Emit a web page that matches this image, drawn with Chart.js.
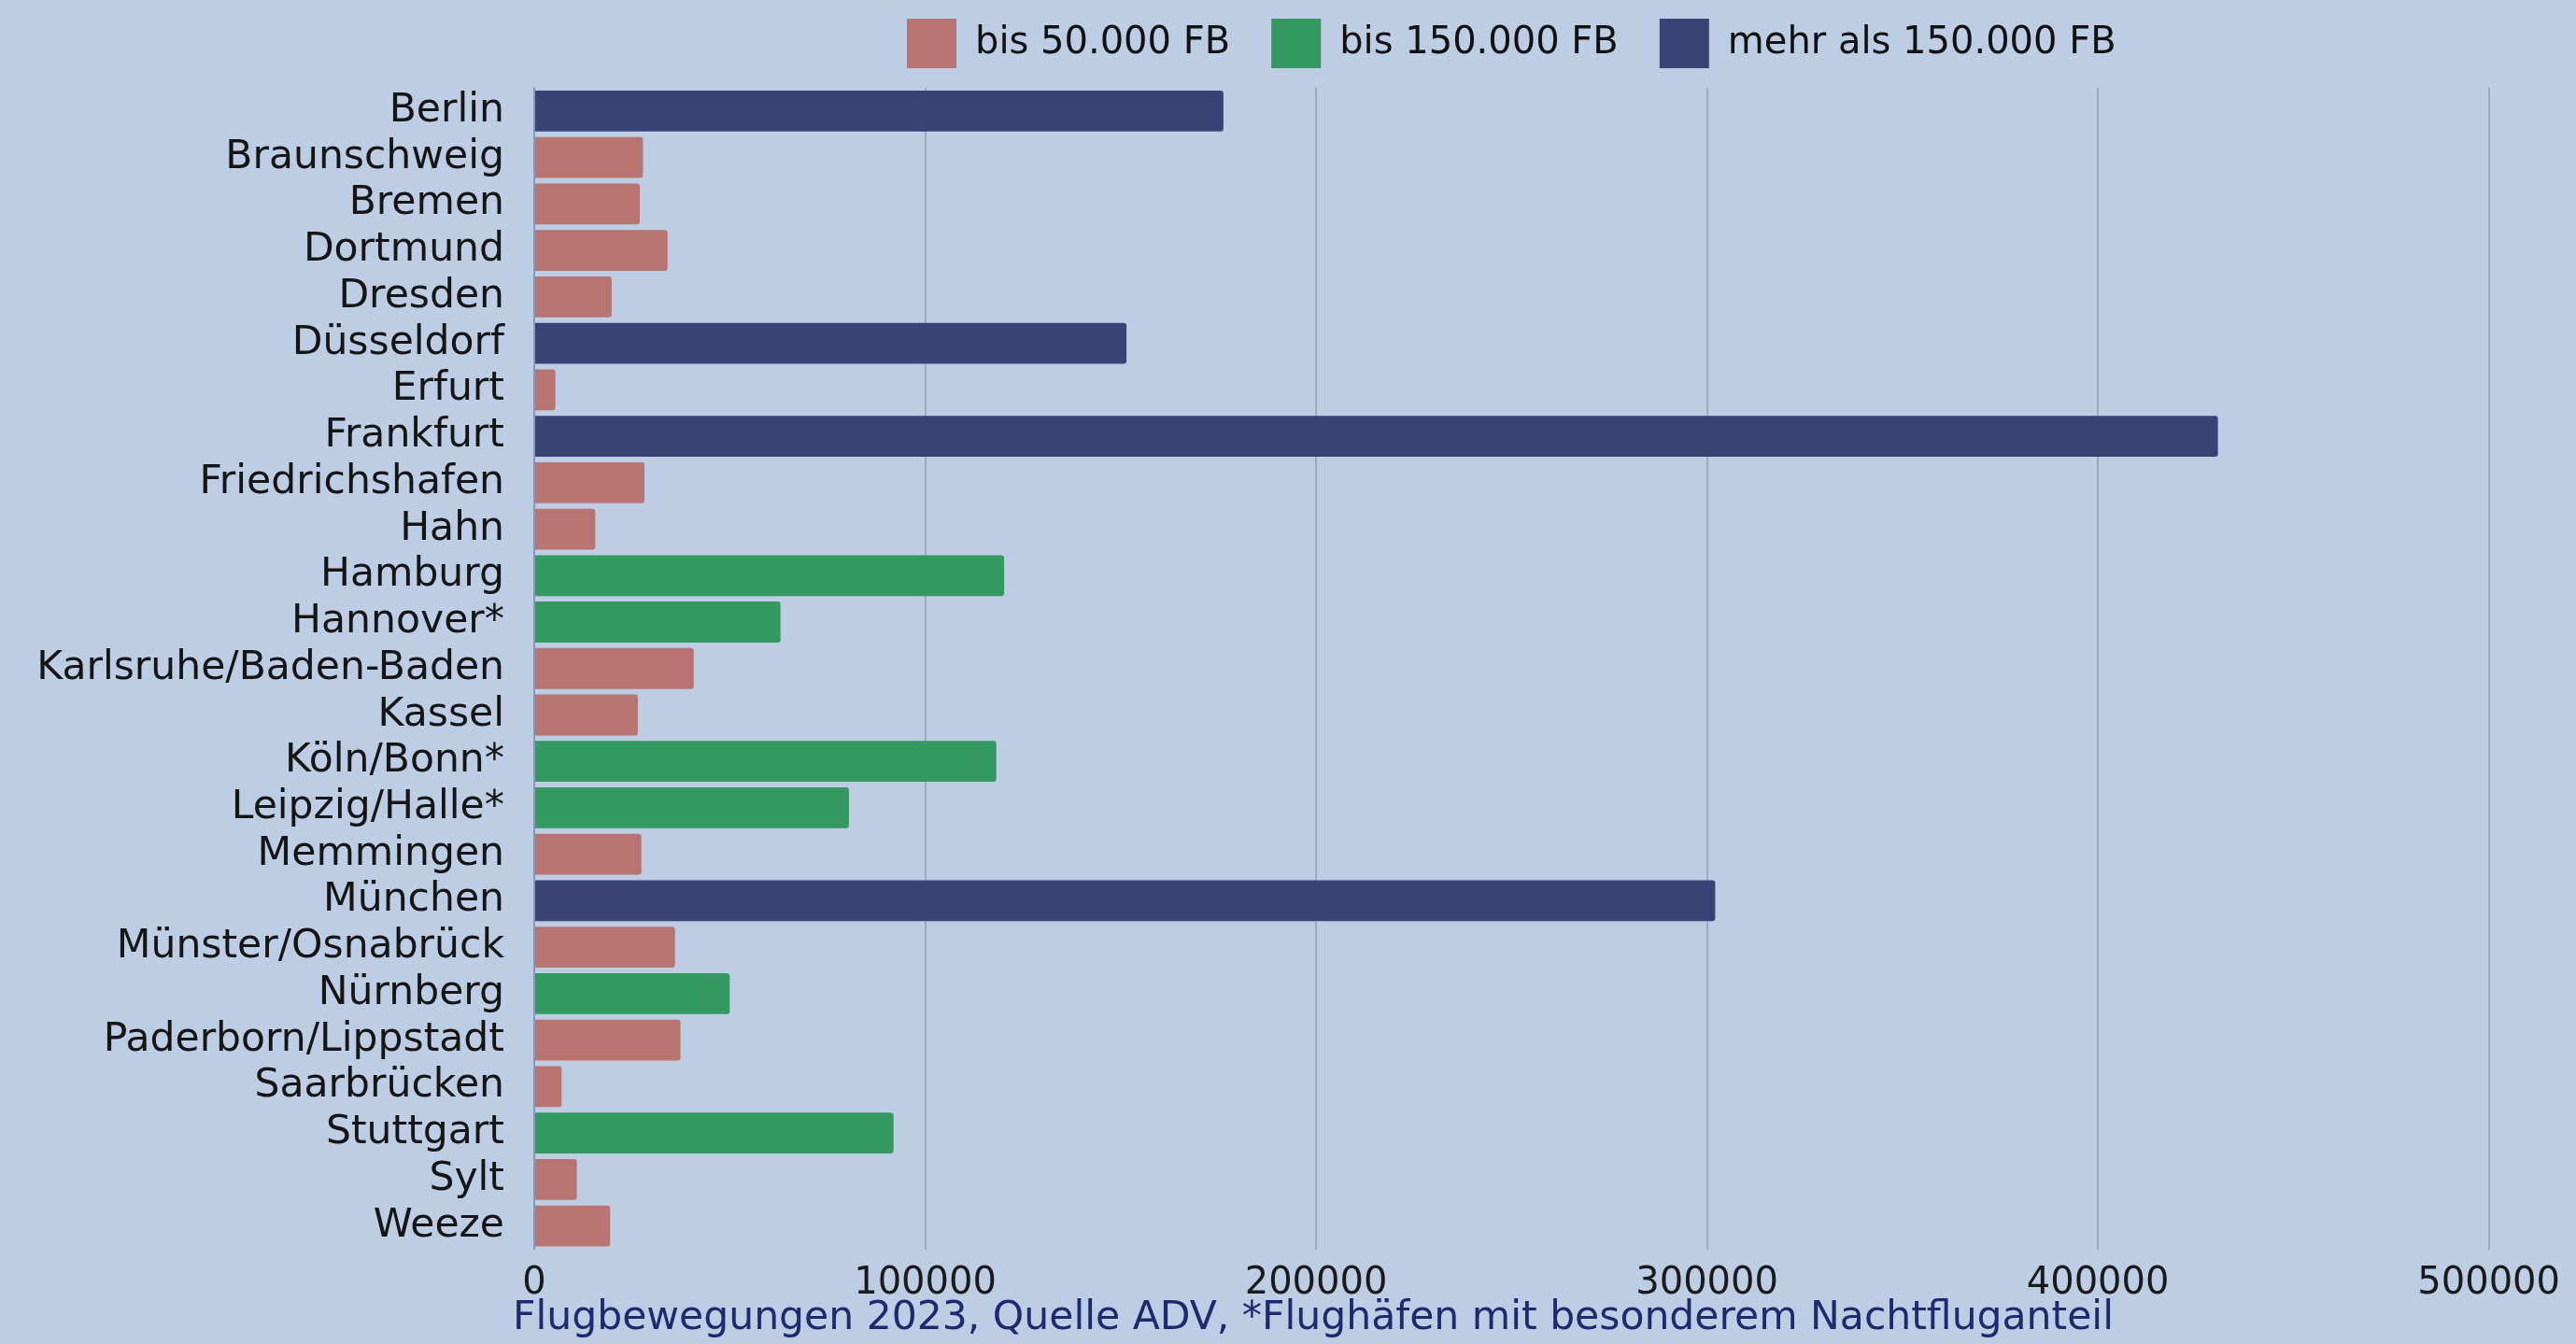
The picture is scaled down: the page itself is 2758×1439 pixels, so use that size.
<!DOCTYPE html>
<html>
<head>
<meta charset="utf-8">
<script src="https://cdn.jsdelivr.net/npm/chart.js@4.4.1/dist/chart.umd.min.js"></script>
<style>
  html, body { margin: 0; padding: 0; background: #bccde4; }
  #wrap { width: 2758px; height: 1439px; }
</style>
</head>
<body>
<div id="wrap"><canvas id="flugChart"></canvas></div>
<script>
// Flugbewegungen 2023 je Flughafen
const airports = [
  "Berlin", "Braunschweig", "Bremen", "Dortmund", "Dresden", "Düsseldorf",
  "Erfurt", "Frankfurt", "Friedrichshafen", "Hahn", "Hamburg", "Hannover*",
  "Karlsruhe/Baden-Baden", "Kassel", "Köln/Bonn*", "Leipzig/Halle*", "Memmingen",
  "München", "Münster/Osnabrück", "Nürnberg", "Paderborn/Lippstadt",
  "Saarbrücken", "Stuttgart", "Sylt", "Weeze"
];
const movements = [
  176300, 27800, 27000, 34100, 19800, 151500,
  5400, 430700, 28200, 15600, 120200, 63000,
  40800, 26500, 118200, 80500, 27400,
  302100, 36000, 50000, 37400,
  7000, 91900, 10900, 19400
];
// 0 = bis 50.000, 1 = bis 150.000, 2 = mehr als 150.000
const sizeClass = [
  2, 0, 0, 0, 0, 2,
  0, 2, 0, 0, 1, 1,
  0, 0, 1, 1, 0,
  2, 0, 1, 0,
  0, 1, 0, 0
];
const classLabels = ["bis 50.000 FB", "bis 150.000 FB", "mehr als 150.000 FB"];
const classColors = ["#b87471", "#339960", "#374475"];
const xTicks = [0, 100000, 200000, 300000, 400000, 500000];
const caption = "Flugbewegungen 2023, Quelle ADV, *Flughäfen mit besonderem Nachtfluganteil";

const gridColor = "rgba(110, 130, 160, 0.45)";

// one dataset per class, other airports left empty
const datasets = classLabels.map((label, c) => ({
  label: label,
  data: movements.map((v, i) => (sizeClass[i] === c ? v : null)),
  backgroundColor: classColors[c],
  borderWidth: 0,
  borderRadius: 3,
  borderSkipped: "start",
  grouped: false,
  categoryPercentage: 1,
  barPercentage: 0.88,
}));

// extra room between legend and plot
const legendGap = {
  id: "legendGap",
  beforeInit(chart) {
    const fit = chart.legend.fit;
    chart.legend.fit = function () {
      fit.call(this);
      this.height += 11;
    };
  },
};

// caption sits a bit right of the canvas centre
const captionShift = {
  id: "captionShift",
  afterLayout(chart) {
    chart.titleBlock.left = 144;
  },
};

const ctx = document.getElementById("flugChart").getContext("2d");

const flugChart = new Chart(ctx, {
  type: "bar",
  data: {
    labels: airports,
    datasets: datasets,
  },
  plugins: [legendGap, captionShift],
  options: {
    indexAxis: "y",
    responsive: true,
    maintainAspectRatio: false,
    animation: false,
    layout: {
      padding: { left: 0, right: 90, top: -24, bottom: 0 },
    },
    scales: {
      x: {
        min: 0,
        max: 500000,
        afterBuildTicks: (scale) => {
          scale.ticks = xTicks.map((v) => ({ value: v }));
        },
        afterFit: (scale) => {
          scale.height = 53;
        },
        grid: {
          color: gridColor,
          lineWidth: 2,
          drawTicks: false,
        },
        border: { display: false },
        ticks: {
          color: "#1a1a1a",
          padding: 17,
          font: { family: "DejaVu Sans", size: 40, lineHeight: 1 },
          callback: (v) => String(v),
          maxRotation: 0,
        },
      },
      y: {
        afterFit: (scale) => {
          scale.width = 572;
        },
        grid: { display: false, drawTicks: false },
        border: { display: true, color: gridColor, width: 2 },
        ticks: {
          color: "#151515",
          padding: 32,
          autoSkip: false,
          font: { family: "DejaVu Sans", size: 42.5, lineHeight: 1 },
        },
      },
    },
    plugins: {
      legend: {
        position: "top",
        fullSize: false,
        labels: {
          boxWidth: 53,
          boxHeight: 53,
          padding: 44,
          color: "#111111",
          font: { family: "DejaVu Sans", size: 40 },
        },
      },
      title: {
        display: true,
        position: "bottom",
        text: caption,
        color: "#1c2a6e",
        padding: { top: 0, bottom: 6 },
        font: { family: "DejaVu Sans", size: 42.5, weight: "normal", lineHeight: 1 },
      },
      tooltip: { enabled: false },
    },
  },
});
</script>
</body>
</html>
